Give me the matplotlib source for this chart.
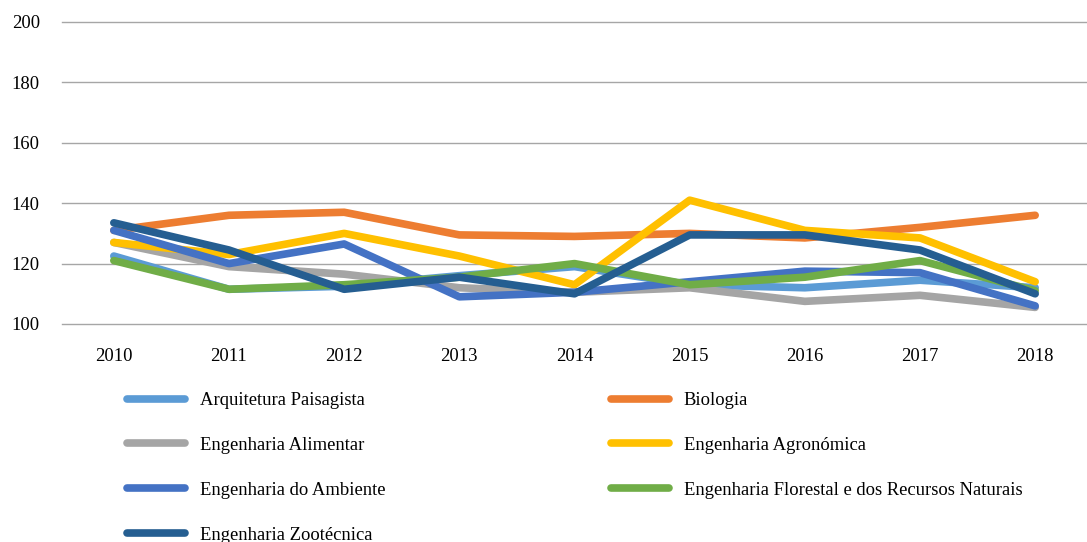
import matplotlib.pyplot as plt

plt.rcParams['font.family'] = 'Liberation Serif'

years = ['2010', '2011', '2012', '2013', '2014', '2015', '2016', '2017', '2018']

paisagista = [122.5, 111.5, 112.5, 116, 119, 113, 112, 114.5, 112]
biologia = [131, 136, 137, 129.5, 129, 130, 128.5, 132, 136]
alimentar = [127, 119, 116.5, 112, 110.5, 112, 107.5, 109.5, 105.5]
agronomica = [127, 123, 130, 122.5, 113, 141, 131, 128.5, 114]
ambiente = [131, 120, 126.5, 109, 110.5, 114, 117.5, 117, 106]
florestal = [121, 111.5, 113, 115.5, 120, 113, 115.5, 121, 111]
zootecnica = [133.5, 124.5, 111.5, 115.5, 110, 129.5, 129.5, 124.5, 110]

names = ['Arquitetura Paisagista', 'Biologia', 'Engenharia Alimentar',
         'Engenharia Agronómica', 'Engenharia do Ambiente',
         'Engenharia Florestal e dos Recursos Naturais', 'Engenharia Zootécnica']
series = [paisagista, biologia, alimentar, agronomica, ambiente, florestal, zootecnica]
colors = ['#5B9BD5', '#ED7D31', '#A5A5A5', '#FFC000', '#4472C4', '#70AD47', '#255E91']

fig = plt.figure(figsize=(10.87, 5.42), dpi=100)
ax = fig.add_axes([62/1087, 1-324/542, (1087-62)/1087, (324-22)/542])

x = range(len(years))
lines = []
for s, c, n in zip(series, colors, names):
    l, = ax.plot(x, s, color=c, lw=5.5, solid_capstyle='round', solid_joinstyle='round', label=n)
    lines.append(l)

ax.set_ylim(100, 200)
ax.set_yticks(range(100, 201, 20))
ax.set_xlim(-0.45, 8.45)
ax.set_xticks(list(x))
ax.set_xticklabels(years)
ax.grid(axis='y', color='#A6A6A6', lw=1)
for gl in ax.get_ygridlines():
    gl.set_clip_on(False)
ax.set_axisbelow(True)
for sp in ax.spines.values():
    sp.set_visible(False)
ax.tick_params(length=0, labelsize=13.4)
ax.tick_params(axis='x', pad=17)
ax.tick_params(axis='y', pad=16)

# legend, two columns filled row by row
kw = dict(frameon=False, fontsize=13.4, handlelength=3.1, handletextpad=0.8,
          labelspacing=1.5, borderaxespad=0, borderpad=0)
leg1 = fig.legend([lines[i] for i in (0, 2, 4, 6)], [names[i] for i in (0, 2, 4, 6)],
                  loc='upper left', bbox_to_anchor=(127/1087, 1-392/542), **kw)
leg2 = fig.legend([lines[i] for i in (1, 3, 5)], [names[i] for i in (1, 3, 5)],
                  loc='upper left', bbox_to_anchor=(611/1087, 1-392/542), **kw)

plt.savefig('out.png', dpi=100)
